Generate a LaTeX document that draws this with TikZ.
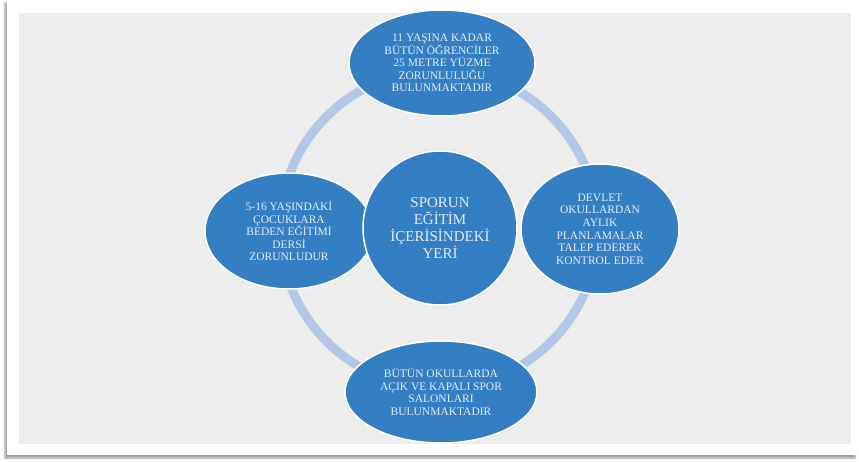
\documentclass[tikz,border=0pt]{standalone}
\usepackage{fontspec}
\setmainfont{Liberation Serif}
\usepackage{xcolor}
\usetikzlibrary{shapes.geometric,shadows.blur}
\definecolor{panelgray}{RGB}{237,237,237}
\definecolor{bubbleblue}{RGB}{52,126,196}
\definecolor{ringblue}{RGB}{180,199,231}
\definecolor{bubbletext}{RGB}{226,236,248}
\tikzset{
	bubble/.style={
			ellipse, fill=bubbleblue, draw=white, line width=1.5pt,
			inner sep=0pt, align=center, text=bubbletext,
			font=\fontsize{11.5}{12.6}\selectfont
		},
	ring/.style={draw=ringblue, line width=9pt}
}

\begin{document}
\begin{tikzpicture}[x=1pt, y=-1pt]
  \useasboundingbox (0,0) rectangle (859,461);

  % Frame
  \path[fill=white, blur shadow={shadow xshift=-2pt, shadow yshift=-3pt, shadow blur radius=2pt}]
    (7,0) rectangle (857,455);
  \fill[panelgray] (19,13) rectangle (851,444);

  % Ring
  \coordinate (c) at (439,229);
  \draw[ring] (c) circle (159pt);

  % Nodes
  \node[bubble, minimum width=186pt, minimum height=106pt] (top) at (442,63)
    {11 YAŞINA KADAR\\BÜTÜN ÖĞRENCİLER\\25 METRE YÜZME\\ZORUNLULUĞU\\BULUNMAKTADIR};
  \node[bubble, minimum width=168pt, minimum height=116pt] (left) at (289,231)
    {5-16 YAŞINDAKİ\\ÇOCUKLARA\\BEDEN EĞİTİMİ\\DERSİ\\ZORUNLUDUR};
  \node[bubble, minimum width=158pt, minimum height=130pt] (right) at (600,229)
    {DEVLET\\OKULLARDAN\\AYLIK\\PLANLAMALAR\\TALEP EDEREK\\KONTROL EDER};
  \node[bubble, minimum width=192pt, minimum height=102pt] (bottom) at (441,392)
    {BÜTÜN OKULLARDA\\AÇIK VE KAPALI SPOR\\SALONLARI\\BULUNMAKTADIR};
  \node[bubble, circle, minimum size=154pt, font=\fontsize{15}{17}\selectfont] (center) at (440,228)
    {SPORUN\\EĞİTİM\\İÇERİSİNDEKİ\\YERİ};
\end{tikzpicture}
\end{document}
